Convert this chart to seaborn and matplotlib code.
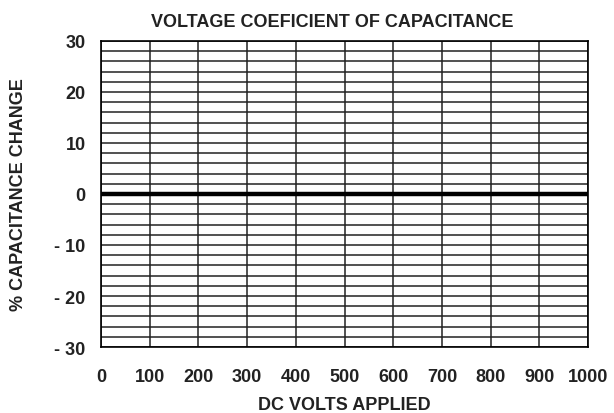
import matplotlib
matplotlib.use("Agg")
import matplotlib.pyplot as plt
import seaborn as sns

sns.set_style("white")
plt.rcParams['font.family'] = ['Liberation Sans', 'DejaVu Sans']

# data
volts = [0, 1000]
change = [0, 0]
x_ticks = [0, 100, 200, 300, 400, 500, 600, 700, 800, 900, 1000]
x_minor = [50, 150, 250, 350, 450, 550, 650, 750, 850, 950]
y_ticks = [30, 20, 10, 0, -10, -20, -30]
y_labels = ['30', '20', '10', '0', '- 10', '- 20', '- 30']
y_minor = list(range(-30, 31, 2))

fig = plt.figure(figsize=(6.14, 4.14), dpi=100)
ax = fig.add_axes([0.1645, 0.1594, 0.7932, 0.7392])

sns.lineplot(x=volts, y=change, color='black', linewidth=3.2, ax=ax, zorder=5)

ax.set_xlim(0, 1000)
ax.set_ylim(-30, 30)
ax.set_xticks(x_ticks)
ax.set_xticks(x_minor, minor=True)
ax.set_yticks(y_ticks)
ax.set_yticklabels(y_labels)
ax.set_yticks(y_minor, minor=True)

ax.grid(axis='x', which='major', color='#222222', linewidth=1.1)
ax.grid(axis='y', which='both', color='#222222', linewidth=1.1)
ax.set_axisbelow(True)

for s in ax.spines.values():
    s.set_color('black')
    s.set_linewidth(1.2)

ax.tick_params(axis='both', which='major', direction='out', length=6, width=1,
               color='black', labelsize=13)
ax.tick_params(axis='x', which='major', pad=9)
ax.tick_params(axis='y', which='major', pad=5)
ax.tick_params(axis='x', which='minor', direction='in', length=4, width=1, color='black')
ax.tick_params(axis='y', which='minor', length=0)
for lab in ax.get_xticklabels() + ax.get_yticklabels():
    lab.set_fontweight('bold')
    lab.set_color('#222222')

ax.set_title('VOLTAGE COEFICIENT OF CAPACITANCE', fontsize=13, fontweight='bold',
             color='#222222', pad=11, x=0.475)
ax.set_xlabel('DC VOLTS APPLIED', fontsize=13, fontweight='bold', color='#222222', labelpad=8)
ax.set_ylabel('% CAPACITANCE CHANGE', fontsize=13, fontweight='bold', color='#222222', labelpad=20)

fig.savefig('out.png', dpi=100)
